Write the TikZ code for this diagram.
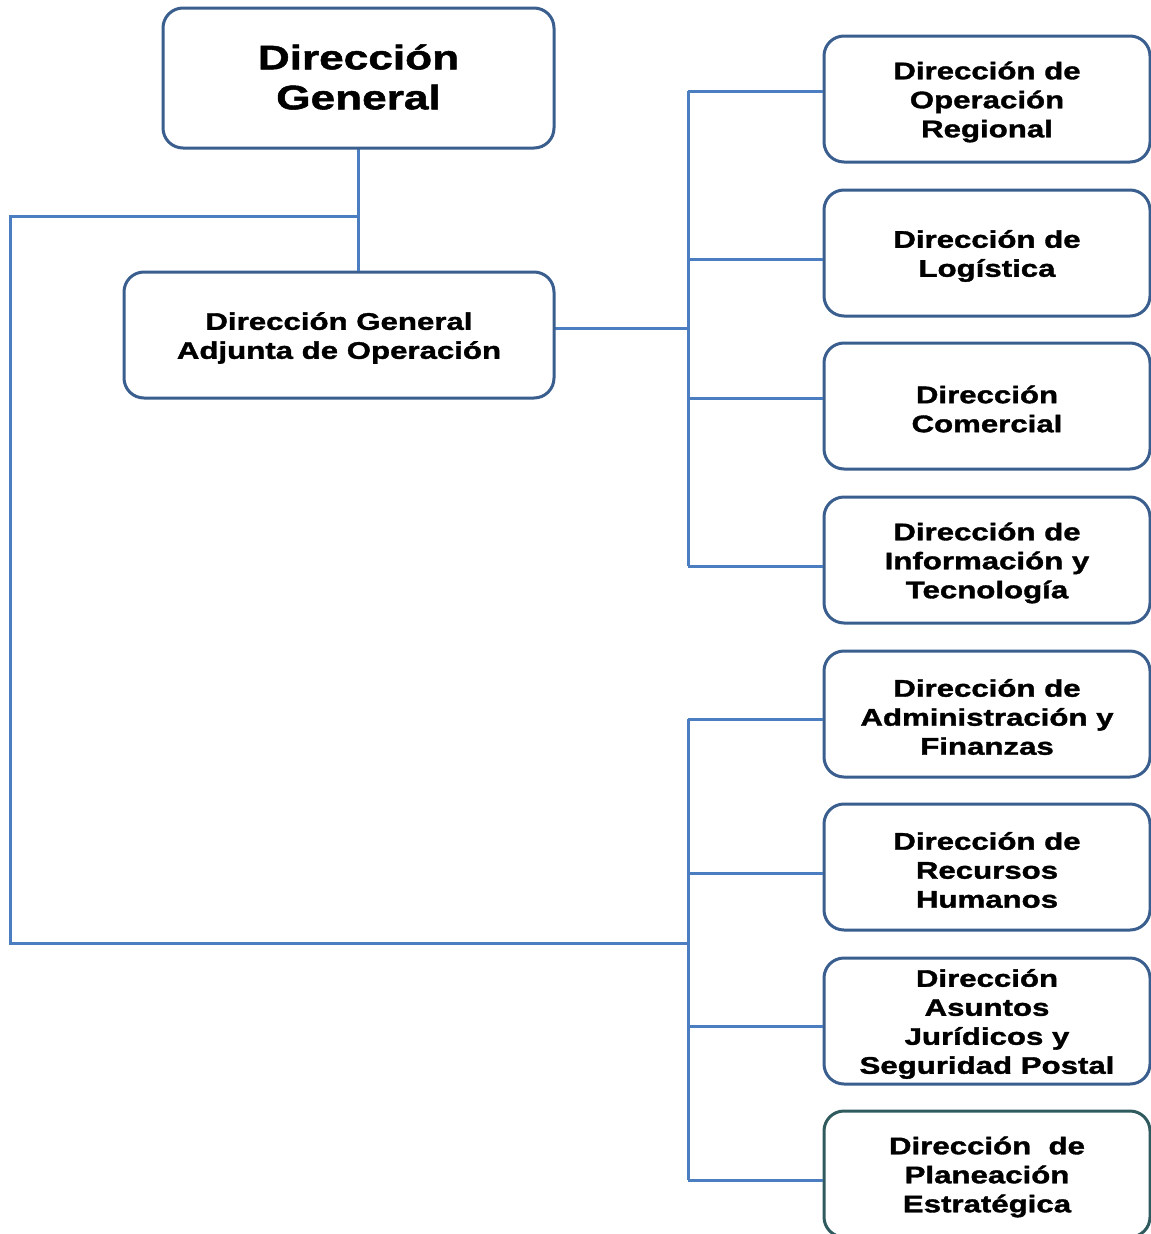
\documentclass[tikz,border=0pt]{standalone}
\usepackage{fontspec}
\newfontfamily\boxfont{Liberation Sans}[FakeStretch=1.30,FakeBold=1.5]
\definecolor{boxblue}{HTML}{3A5E8E}
\definecolor{boxteal}{HTML}{2F5A5E}
\definecolor{linkblue}{HTML}{4A7EC0}
\tikzset{
  box/.style={draw=boxblue, line width=3pt, rounded corners=20pt,
    inner sep=0pt, fill=white},
  txt/.style={align=center, inner sep=0pt, yshift=-3pt,
    font=\boxfont\bfseries\fontsize{24}{29}\selectfont},
  bigtxt/.style={align=center, inner sep=0pt, yshift=1pt,
    font=\boxfont\bfseries\fontsize{34}{40}\selectfont},
  rbox/.style={box, minimum width=326pt, minimum height=126pt},
  link/.style={draw=linkblue, line width=3pt, line join=miter},
}
\begin{document}
\begin{tikzpicture}[x=1pt,y=-1pt]
\useasboundingbox (0,0) rectangle (1151,1234);
\fill[white] (0,0) rectangle (1151,1234);

% coordinates of the connector junctions
\coordinate (t) at (10,216);
\coordinate (b) at (10,943);
\coordinate (m) at (688,943);
\coordinate (j) at (688,328);
\coordinate (u1) at (688,91);
\coordinate (u2) at (688,259);
\coordinate (u3) at (688,398);
\coordinate (u4) at (688,566);
\coordinate (v1) at (688,719);
\coordinate (v2) at (688,873);
\coordinate (v3) at (688,1026);
\coordinate (v4) at (688,1180);

% connectors (drawn first, under the boxes)
\draw[link] (358.5,148) -- (358.5,272);
\draw[link] (358.5,216) -- (t) -- (b) -- (m);
\draw[link] (554,328) -- (j);
\draw[link] (u1) -- (u4);
\draw[link] (v1) -- (v4);

% boxes
\node[box, minimum width=391pt, minimum height=140pt,
  label={[bigtxt]center:{Dirección\\General}}] (dg) at (358.5,78) {};
\node[box, minimum width=430pt, minimum height=126pt,
  label={[txt]center:{Dirección General\\Adjunta de Operación}}] (dga) at (339,335) {};

\node[rbox, label={[txt]center:{Dirección de\\Operación\\Regional}}] (r1) at (987,99) {};
\node[rbox, label={[txt]center:{Dirección de\\Logística}}] (r2) at (987,253) {};
\node[rbox, label={[txt]center:{Dirección\\Comercial}}] (r3) at (987,406) {};
\node[rbox, label={[txt]center:{Dirección de\\Información y\\Tecnología}}] (r4) at (987,560) {};
\node[rbox, label={[txt]center:{Dirección de\\Administración y\\Finanzas}}] (r5) at (987,714) {};
\node[rbox, label={[txt]center:{Dirección de\\Recursos\\Humanos}}] (r6) at (987,867) {};
\node[rbox, label={[txt]center:{Dirección\\Asuntos\\Jurídicos y\\Seguridad Postal}}] (r7) at (987,1021) {};
\node[rbox, draw=boxteal, label={[txt]center:{Dirección~ de\\Planeación\\Estratégica}}] (r8) at (987,1174) {};

% branch connectors to the boxes
\draw[link] (dg.south) -- (dga.north -| dg.south);
\draw[link] (dga.east |- j) -- (j);
\draw[link] (u1) -- (r1.west |- u1);
\draw[link] (u2) -- (r2.west |- u2);
\draw[link] (u3) -- (r3.west |- u3);
\draw[link] (u4) -- (r4.west |- u4);
\draw[link] (v1) -- (r5.west |- v1);
\draw[link] (v2) -- (r6.west |- v2);
\draw[link] (v3) -- (r7.west |- v3);
\draw[link] (v4) -- (r8.west |- v4);
\end{tikzpicture}
\end{document}
